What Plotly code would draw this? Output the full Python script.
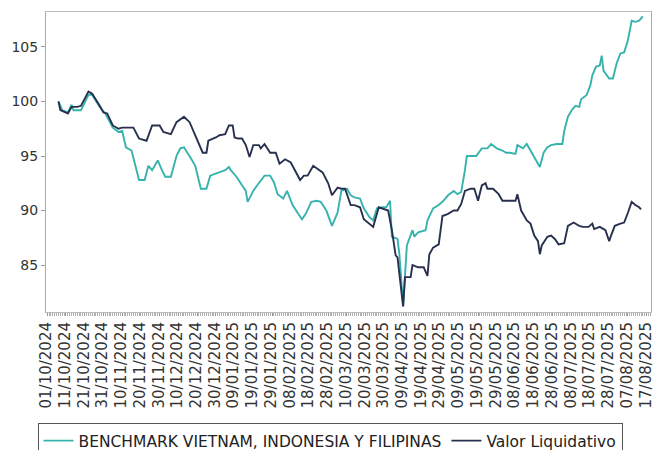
import plotly.graph_objects as go

# Benchmark index (teal)
bench_dates = [
    "2024-10-07", "2024-10-09", "2024-10-12", "2024-10-14", "2024-10-15", "2024-10-19",
    "2024-10-23", "2024-10-25", "2024-10-29", "2024-11-01", "2024-11-05", "2024-11-08",
    "2024-11-10", "2024-11-12", "2024-11-15", "2024-11-17", "2024-11-19", "2024-11-22",
    "2024-11-24", "2024-11-26", "2024-11-29", "2024-12-01", "2024-12-03", "2024-12-06",
    "2024-12-09", "2024-12-11", "2024-12-13", "2024-12-17", "2024-12-19", "2024-12-22",
    "2024-12-25", "2024-12-27", "2024-12-30", "2025-01-01", "2025-01-04", "2025-01-06",
    "2025-01-07", "2025-01-10", "2025-01-13", "2025-01-15", "2025-01-16", "2025-01-19",
    "2025-01-21", "2025-01-23", "2025-01-25", "2025-01-28", "2025-01-30", "2025-02-01",
    "2025-02-04", "2025-02-06", "2025-02-08", "2025-02-09", "2025-02-12", "2025-02-14",
    "2025-02-16", "2025-02-19", "2025-02-22", "2025-02-24", "2025-02-27", "2025-03-02",
    "2025-03-05", "2025-03-07", "2025-03-10", "2025-03-12", "2025-03-14", "2025-03-17",
    "2025-03-19", "2025-03-21", "2025-03-22", "2025-03-24", "2025-03-26", "2025-03-29",
    "2025-03-31", "2025-04-02", "2025-04-03", "2025-04-06", "2025-04-07", "2025-04-09",
    "2025-04-10", "2025-04-11", "2025-04-14", "2025-04-15", "2025-04-17", "2025-04-21",
    "2025-04-22", "2025-04-25", "2025-04-28", "2025-04-30", "2025-05-03", "2025-05-06",
    "2025-05-08", "2025-05-10", "2025-05-12", "2025-05-13", "2025-05-16", "2025-05-18",
    "2025-05-21", "2025-05-24", "2025-05-26", "2025-05-29", "2025-06-01", "2025-06-03",
    "2025-06-05", "2025-06-08", "2025-06-09", "2025-06-12", "2025-06-14", "2025-06-17",
    "2025-06-18", "2025-06-21", "2025-06-23", "2025-06-25", "2025-06-27", "2025-06-30",
    "2025-07-03", "2025-07-04", "2025-07-06", "2025-07-08", "2025-07-10", "2025-07-12",
    "2025-07-13", "2025-07-16", "2025-07-18", "2025-07-19", "2025-07-21", "2025-07-23",
    "2025-07-24", "2025-07-25", "2025-07-28", "2025-07-30", "2025-08-01", "2025-08-03",
    "2025-08-05", "2025-08-07", "2025-08-09", "2025-08-11", "2025-08-13", "2025-08-15",
]
bench_values = [
    100.0, 99.2, 99.0, 99.7, 99.2, 99.2,
    100.6, 100.6, 99.5, 98.9, 97.6, 97.2,
    97.3, 95.8, 95.5, 94.0, 92.8, 92.8,
    94.1, 93.7, 94.6, 93.8, 93.1, 93.1,
    95.0, 95.7, 95.8, 94.7, 94.1, 92.0,
    92.0, 93.2, 93.4, 93.5, 93.7, 94.0,
    93.7, 93.1, 92.3, 91.8, 90.8, 91.8,
    92.3, 92.8, 93.2, 93.2, 92.6, 91.5,
    91.1, 91.8, 90.8, 90.5, 89.7, 89.2,
    89.7, 90.8, 90.9, 90.8, 90.0, 88.6,
    89.8, 91.8, 92.0, 91.4, 91.2, 91.1,
    90.2, 89.7, 89.4, 89.1, 90.2, 90.3,
    90.3, 90.9, 87.6, 87.4, 86.0, 81.3,
    84.5, 86.8, 88.2, 87.6, 88.0, 88.2,
    89.1, 90.2, 90.5, 90.8, 91.4, 91.8,
    91.5, 91.7, 93.7, 95.0, 95.0, 95.0,
    95.7, 95.7, 96.1, 95.7, 95.5, 95.3,
    95.3, 95.2, 96.0, 95.7, 96.1, 95.2,
    94.9, 94.0, 95.3, 95.8, 96.0, 96.1,
    96.1, 97.3, 98.6, 99.2, 99.6, 99.5,
    100.2, 100.6, 101.5, 102.4, 103.2, 103.3,
    104.2, 102.8, 102.1, 102.1, 103.5, 104.4,
    104.5, 105.6, 107.4, 107.3, 107.4, 107.8,
]

# Fund NAV (navy)
nav_dates = [
    "2024-10-07", "2024-10-08", "2024-10-12", "2024-10-14", "2024-10-17", "2024-10-19",
    "2024-10-23", "2024-10-25", "2024-10-29", "2024-10-31", "2024-11-02", "2024-11-05",
    "2024-11-08", "2024-11-10", "2024-11-13", "2024-11-16", "2024-11-19", "2024-11-23",
    "2024-11-26", "2024-11-30", "2024-12-02", "2024-12-06", "2024-12-09", "2024-12-13",
    "2024-12-16", "2024-12-18", "2024-12-21", "2024-12-23", "2024-12-25", "2024-12-26",
    "2024-12-30", "2025-01-01", "2025-01-04", "2025-01-06", "2025-01-08", "2025-01-09",
    "2025-01-11", "2025-01-13", "2025-01-15", "2025-01-17", "2025-01-19", "2025-01-22",
    "2025-01-23", "2025-01-25", "2025-01-28", "2025-01-31", "2025-02-02", "2025-02-05",
    "2025-02-08", "2025-02-10", "2025-02-13", "2025-02-15", "2025-02-17", "2025-02-20",
    "2025-02-23", "2025-02-25", "2025-02-28", "2025-03-02", "2025-03-05", "2025-03-07",
    "2025-03-09", "2025-03-12", "2025-03-14", "2025-03-17", "2025-03-19", "2025-03-21",
    "2025-03-24", "2025-03-27", "2025-03-29", "2025-04-01", "2025-04-03", "2025-04-05",
    "2025-04-06", "2025-04-08", "2025-04-09", "2025-04-10", "2025-04-13", "2025-04-14",
    "2025-04-17", "2025-04-20", "2025-04-22", "2025-04-23", "2025-04-25", "2025-04-28",
    "2025-04-30", "2025-05-03", "2025-05-06", "2025-05-08", "2025-05-10", "2025-05-12",
    "2025-05-15", "2025-05-17", "2025-05-19", "2025-05-21", "2025-05-23", "2025-05-24",
    "2025-05-27", "2025-05-30", "2025-06-01", "2025-06-03", "2025-06-05", "2025-06-08",
    "2025-06-09", "2025-06-11", "2025-06-12", "2025-06-14", "2025-06-16", "2025-06-18",
    "2025-06-20", "2025-06-21", "2025-06-22", "2025-06-25", "2025-06-27", "2025-06-29",
    "2025-07-01", "2025-07-04", "2025-07-06", "2025-07-09", "2025-07-12", "2025-07-14",
    "2025-07-17", "2025-07-19", "2025-07-20", "2025-07-23", "2025-07-26", "2025-07-28",
    "2025-07-29", "2025-07-31", "2025-08-03", "2025-08-05", "2025-08-07", "2025-08-09",
    "2025-08-11", "2025-08-13", "2025-08-14",
]
nav_values = [
    100.0, 99.2, 98.9, 99.5, 99.5, 99.6,
    100.9, 100.7, 99.6, 99.0, 98.9, 97.8,
    97.5, 97.6, 97.6, 97.6, 96.6, 96.4,
    97.8, 97.8, 97.2, 97.0, 98.1, 98.6,
    98.1, 97.3, 96.0, 95.3, 95.3, 96.4,
    96.7, 96.9, 97.0, 97.8, 97.8, 96.7,
    96.6, 96.6, 96.0, 94.9, 96.0, 96.0,
    95.7, 96.1, 95.3, 95.3, 94.3, 94.7,
    94.4, 93.7, 92.8, 93.2, 93.2, 94.1,
    93.7, 93.5, 92.5, 91.4, 92.1, 92.0,
    92.0, 90.5, 90.5, 90.3, 89.2, 88.9,
    88.5, 90.3, 90.2, 90.0, 88.2, 85.9,
    85.7, 82.4, 81.2, 83.9, 83.9, 85.0,
    84.8, 84.8, 84.0, 86.0, 86.6, 86.9,
    89.5, 89.7, 90.0, 90.0, 90.6, 91.8,
    92.0, 92.0, 90.9, 92.3, 92.5, 92.0,
    92.0, 91.5, 90.9, 90.9, 90.9, 90.9,
    91.5, 90.0, 89.7, 89.1, 88.8, 87.7,
    87.2, 86.0, 86.8, 87.6, 87.7, 87.4,
    86.9, 87.0, 88.6, 88.9, 88.6, 88.5,
    88.5, 88.8, 88.3, 88.5, 88.2, 87.2,
    87.7, 88.6, 88.8, 88.9, 89.8, 90.8,
    90.5, 90.3, 90.1,
]

series_names = ["BENCHMARK VIETNAM, INDONESIA Y FILIPINAS", "Valor Liquidativo"]
series_colors = ["#36b3ad", "#28304f"]

fig = go.Figure()
fig.add_trace(go.Scatter(x=bench_dates, y=bench_values, mode="lines",
                         name=series_names[0],
                         line=dict(color=series_colors[0], width=1.9)))
fig.add_trace(go.Scatter(x=nav_dates, y=nav_values, mode="lines",
                         name=series_names[1],
                         line=dict(color=series_colors[1], width=1.9)))

fig.update_layout(
    width=654, height=450,
    # legend runs off the bottom edge like the original, so don't let it grow the margin
    margin=dict(l=46, r=3, t=12, b=138, autoexpand=False),
    paper_bgcolor="white", plot_bgcolor="white",
    font=dict(family="DejaVu Sans", color="#333333"),
    showlegend=True,
    legend=dict(
        orientation="h", x=-0.014, xanchor="left", y=-0.37, yanchor="top",
        bordercolor="#555555", borderwidth=1,
        font=dict(size=15.5, color="#222222"),
        itemwidth=30, tracegroupgap=0,
    ),
)
fig.update_xaxes(
    type="date", automargin=False,
    range=["2024-09-30 08:00", "2025-08-19 08:00"],
    tick0="2024-10-01", dtick=864000000, tickformat="%d/%m/%Y",
    tickangle=-90, tickfont=dict(size=15, color="#333333"),
    ticklabeloverflow="allow", ticklabelshift=-1,
    ticks="outside", ticklen=3, tickcolor="#999999",
    minor=dict(dtick=86400000, ticks="outside", ticklen=3, tickcolor="#b0b0b0"),
    showgrid=False, showline=True, linecolor="#bbbbbb", mirror=True, zeroline=False,
)
fig.update_yaxes(
    automargin=False,
    range=[80.7, 108.2], tick0=85, dtick=5,
    tickfont=dict(size=14, color="#333333"),
    ticks="outside", ticklen=4, tickcolor="#999999",
    showgrid=False, showline=True, linecolor="#aaaaaa", mirror=True, zeroline=False,
)

# drop the default body margin so the 654x450 figure fills the window exactly
fig.write_html(
    "out.html",
    config={"displayModeBar": False},
    post_script="document.body.style.margin='0';document.body.style.overflow='hidden';",
)
